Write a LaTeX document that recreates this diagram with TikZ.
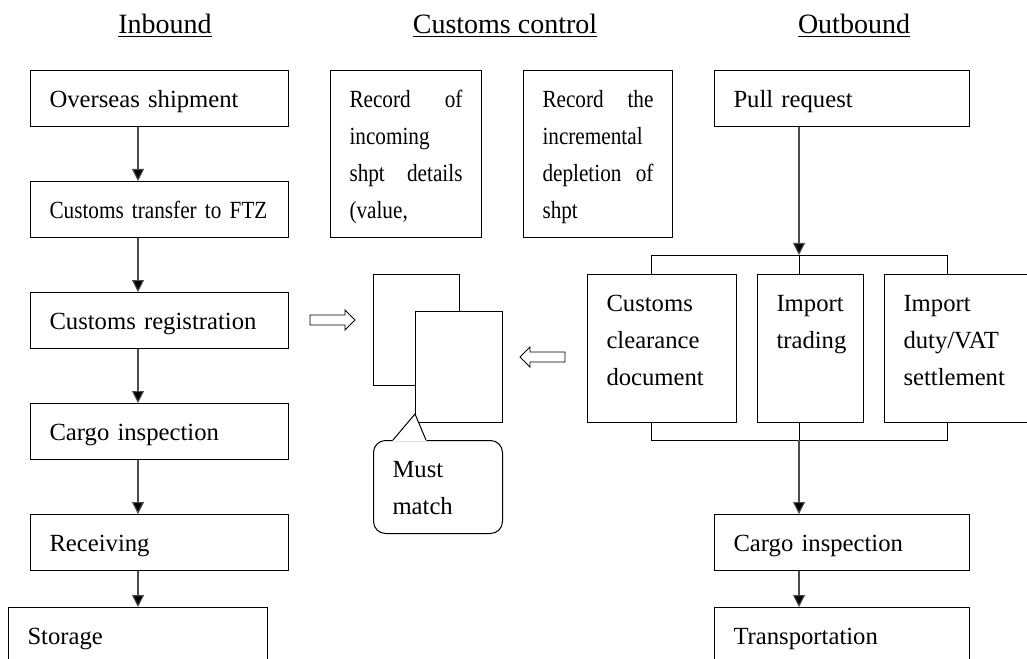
\documentclass[tikz,border=0pt]{standalone}
\usepackage{fontspec}
\setmainfont{Liberation Serif}
\newfontfamily\narrowfont[FakeStretch=0.86]{Liberation Serif}
\usetikzlibrary{arrows.meta,shapes.arrows,calc}

\tikzset{
  box/.style 2 args={draw, line width=0.75pt, anchor=north west, align=left,
    inner xsep=14.25pt, inner ysep=0pt,
    text width=#1*0.75pt-28.5pt, text height=27.75pt, text depth=#2*0.75pt-27.75pt},
  doc/.style 2 args={draw, line width=0.75pt, fill=white, anchor=north west,
    inner sep=0pt, minimum width=#1*0.75pt, minimum height=#2*0.75pt},
  flow/.style={color=black!70, line width=0.8pt,
    -{Triangle[width=9pt,length=9pt,fill=black]}},
  bracket/.style={draw, line width=0.75pt},
  hollow/.style={single arrow, draw, line width=0.6pt, inner sep=3.4pt,
    minimum height=33.75pt, single arrow head extend=3.75pt},
  heading/.style={anchor=base, font=\fontsize{21pt}{25pt}\selectfont},
}

\begin{document}
\begin{tikzpicture}[x=0.75pt, y=-0.75pt, font=\fontsize{18.5pt}{27.75pt}\selectfont]
\path[use as bounding box, fill=white] (0,0) rectangle (1027,659);

% headings
\node[heading] (hin)  at (165, 34) {\underline{Inbound}};
\node[heading] (hcus) at (505, 34) {\underline{Customs control}};
\node[heading] (hout) at (854, 34) {\underline{Outbound}};

% inbound column
\node[box={258}{56}] (ship)  at (30, 70)  {Overseas shipment};
\node[box={258}{56}] (ftz)   at (30, 181) {\narrowfont Customs transfer to FTZ};
\node[box={258}{56}] (reg)   at (30, 292) {Customs registration};
\node[box={258}{56}] (cargo) at (30, 403) {Cargo inspection};
\node[box={258}{56}] (recv)  at (30, 514) {Receiving};
\node[box={259}{70}] (store) at (8, 607)  {Storage};

\path[flow]
(ship.south -| store)  edge (ftz.north -| store)
(ftz.south -| store)   edge (reg.north -| store)
(reg.south -| store)   edge (cargo.north -| store)
(cargo.south -| store) edge (recv.north -| store)
(recv.south -| store)  edge (store.north)
;

% customs control
\node[box={151}{167}] (rec1) at (330, 70)
  {\narrowfont Record\nobreak\hfill of\\incoming\\shpt\nobreak\hfill details\\(value,};
\node[box={149}{167}] (rec2) at (523, 70)
  {\narrowfont Record\nobreak\hfill the\\incremental\\depletion\nobreak\hfill of\\shpt};

\node[doc={86}{111}] (docA) at (373, 274) {};
\node[doc={87}{111}] (docB) at (415, 311) {};
\node[box={129}{93}, rounded corners=9pt] (match) at (373, 440) {Must\\match};
\coordinate (tip) at (415, 414);
\fill[white] ($(match.north west)+(19.5,1)$) -- (tip) -- ($(match.north west)+(53.5,1)$) -- cycle;
\draw[line width=0.75pt] ($(match.north west)+(20,0)$) -- (tip) -- ($(match.north west)+(53,0)$);

\node[hollow] (toDocs) at (330, 320) {};
\node[hollow, shape border rotate=180] (fromOut) at (545, 357) {};

% outbound column
\node[box={255}{56}]  (pull)   at (714, 70)  {Pull request};
\node[box={149}{148}] (clear)  at (587, 274) {Customs\\clearance\\document};
\node[box={106}{148}] (trade)  at (757, 274) {Import\\trading};
\node[box={160}{148}] (duty)   at (884, 274) {Import\\duty/VAT\\settlement};
\node[box={255}{56}]  (cargoB) at (714, 514) {Cargo inspection};
\node[box={255}{70}]  (trans)  at (714, 607) {Transportation};

\coordinate (splitL) at (651, 255);
\coordinate (splitM) at (799, 255);
\coordinate (splitR) at (947, 255);
\coordinate (joinL)  at (651, 440);
\coordinate (joinM)  at (799, 440);
\coordinate (joinR)  at (947, 440);

\draw[bracket] (clear.north -| splitL) -- (splitL) -- (splitR) -- (duty.north -| splitR);
\draw[bracket] (splitM) -- (trade.north -| splitM);
\draw[bracket] (clear.south -| joinL) -- (joinL) -- (joinR) -- (duty.south -| joinR);
\draw[bracket] (trade.south -| joinM) -- (joinM);

\path[flow]
(pull.south -| splitM)   edge (splitM)
(joinM)                  edge (cargoB.north -| joinM)
(cargoB.south -| joinM)  edge (trans.north -| joinM)
;
\end{tikzpicture}
\end{document}
